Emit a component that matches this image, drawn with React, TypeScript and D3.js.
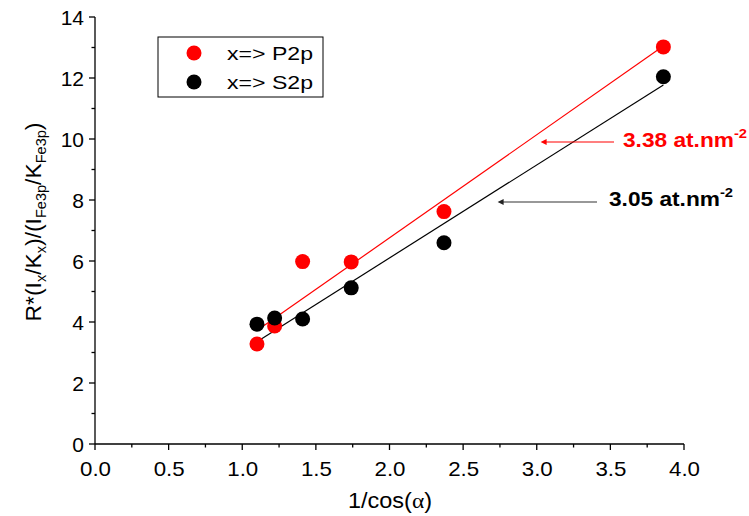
import React from "react";
import * as d3 from "d3";

// 1/cos(alpha) for the measured take-off angles
const secAlpha = [1.1, 1.22, 1.41, 1.74, 2.37, 3.86];
const p2pValues = [3.28, 3.87, 5.98, 5.97, 7.62, 13.02];
const s2pValues = [3.93, 4.13, 4.1, 5.12, 6.6, 12.04];
const p2pSlope = 3.38;
const s2pSlope = 3.05;
const xTicks = [0, 0.5, 1, 1.5, 2, 2.5, 3, 3.5, 4];
const yTicks = [0, 2, 4, 6, 8, 10, 12, 14];
const legendLabels = ["x=> P2p", "x=> S2p"];

const W = 749;
const H = 516;
const FONT = "Liberation Sans, Arial, sans-serif";
const TICK_FS = 21;
const TITLE_FS = 22;

export default function App() {
  const x = d3.scaleLinear().domain([0, 4]).range([95, 684]);
  const y = d3.scaleLinear().domain([0, 14]).range([444, 17]);

  const fitLine = (slope: number) =>
    d3.line<number>()
      .x((v) => x(v))
      .y((v) => y(slope * v))([secAlpha[0], secAlpha[secAlpha.length - 1]]) || "";

  const xMinor = d3.range(0.25, 4, 0.5);
  const yMinor = d3.range(1, 14, 2);

  const series = [
    { values: p2pValues, color: "#ff0000", label: legendLabels[0] },
    { values: s2pValues, color: "#000000", label: legendLabels[1] },
  ];

  return (
    <svg
      width={W}
      height={H}
      style={{ position: "absolute", left: 0, top: 0 }}
      fontFamily={FONT}
    >
      <defs>
        <marker id="headRed" viewBox="0 0 10 10" refX="1" refY="5" markerWidth="10" markerHeight="6" orient="auto-start-reverse" markerUnits="userSpaceOnUse">
          <path d="M0,0 L10,5 L0,10 z" fill="#ff0000" />
        </marker>
        <marker id="headBlack" viewBox="0 0 10 10" refX="1" refY="5" markerWidth="10" markerHeight="6" orient="auto-start-reverse" markerUnits="userSpaceOnUse">
          <path d="M0,0 L10,5 L0,10 z" fill="#222222" />
        </marker>
      </defs>
      <rect width={W} height={H} fill="#ffffff" />

      {/* axes */}
      <line x1={x(0)} x2={x(4)} y1={y(0)} y2={y(0)} stroke="#000" strokeWidth={1.3} />
      <line x1={x(0)} x2={x(0)} y1={y(0)} y2={y(14)} stroke="#000" strokeWidth={1.3} />
      {xTicks.map((t) => (
        <g key={"xt" + t}>
          <line x1={x(t)} x2={x(t)} y1={y(0)} y2={y(0) + 6} stroke="#000" strokeWidth={1.3} />
          <text x={x(t) - 15} y={476} fontSize={TICK_FS} fill="#000" textLength={31} lengthAdjust="spacingAndGlyphs">
            {t.toFixed(1)}
          </text>
        </g>
      ))}
      {xMinor.map((t) => (
        <line key={"xm" + t} x1={x(t)} x2={x(t)} y1={y(0)} y2={y(0) + 3.5} stroke="#000" strokeWidth={1.3} />
      ))}
      {yTicks.map((t) => (
        <g key={"yt" + t}>
          <line x1={x(0) - 6} x2={x(0)} y1={y(t)} y2={y(t)} stroke="#000" strokeWidth={1.3} />
          <text x={84} y={y(t) + 7.5} fontSize={TICK_FS} textAnchor="end" fill="#000">
            {t}
          </text>
        </g>
      ))}
      {yMinor.map((t) => (
        <line key={"ym" + t} x1={x(0) - 3.5} x2={x(0)} y1={y(t)} y2={y(t)} stroke="#000" strokeWidth={1.3} />
      ))}

      {/* axis titles */}
      <text x={390} y={508} fontSize={TITLE_FS} textAnchor="middle" fill="#000" textLength={84} lengthAdjust="spacingAndGlyphs">
        1/cos(<tspan fontFamily="Liberation Serif, serif">α</tspan>)
      </text>
      <text transform="translate(41,222) rotate(-90)" fontSize={TITLE_FS} textAnchor="middle" fill="#000" textLength={199} lengthAdjust="spacingAndGlyphs">
        R*(I<tspan fontSize={14} dy={5}>x</tspan>
        <tspan dy={-5}>/K</tspan>
        <tspan fontSize={14} dy={5}>x</tspan>
        <tspan dy={-5}>)/(I</tspan>
        <tspan fontSize={14} dy={5}>Fe3p</tspan>
        <tspan dy={-5}>/K</tspan>
        <tspan fontSize={14} dy={5}>Fe3p</tspan>
        <tspan dy={-5}>)</tspan>
      </text>

      {/* linear fits */}
      <path d={fitLine(p2pSlope)} stroke="#ff0000" strokeWidth={1.2} fill="none" />
      <path d={fitLine(s2pSlope)} stroke="#000000" strokeWidth={1.2} fill="none" />

      {/* data points */}
      {series.map((s) =>
        s.values.map((v, i) => (
          <circle key={s.label + i} cx={x(secAlpha[i])} cy={y(v)} r={7.5} fill={s.color} />
        ))
      )}

      {/* slope annotations */}
      <line x1={614} x2={546} y1={142} y2={142} stroke="#ff0000" strokeWidth={1.2} markerEnd="url(#headRed)" />
      <text x={623} y={147} fontSize={20} fontWeight="bold" fill="#ff0000" textLength={124} lengthAdjust="spacingAndGlyphs">
        3.38 at.nm<tspan fontSize={13} dy={-9}>-2</tspan>
      </text>
      <line x1={597} x2={503} y1={202} y2={202} stroke="#333333" strokeWidth={1.2} markerEnd="url(#headBlack)" />
      <text x={609} y={206} fontSize={20} fontWeight="bold" fill="#000" textLength={124} lengthAdjust="spacingAndGlyphs">
        3.05 at.nm<tspan fontSize={13} dy={-9}>-2</tspan>
      </text>

      {/* legend */}
      <rect x={158} y={37} width={165} height={60} fill="none" stroke="#000" strokeWidth={1} />
      {series.map((s, i) => (
        <g key={"lg" + i}>
          <circle cx={194} cy={53 + i * 29} r={7.5} fill={s.color} />
          <text x={227} y={60 + i * 29} fontSize={19} fill="#000" textLength={86} lengthAdjust="spacingAndGlyphs">
            {s.label}
          </text>
        </g>
      ))}
    </svg>
  );
}
